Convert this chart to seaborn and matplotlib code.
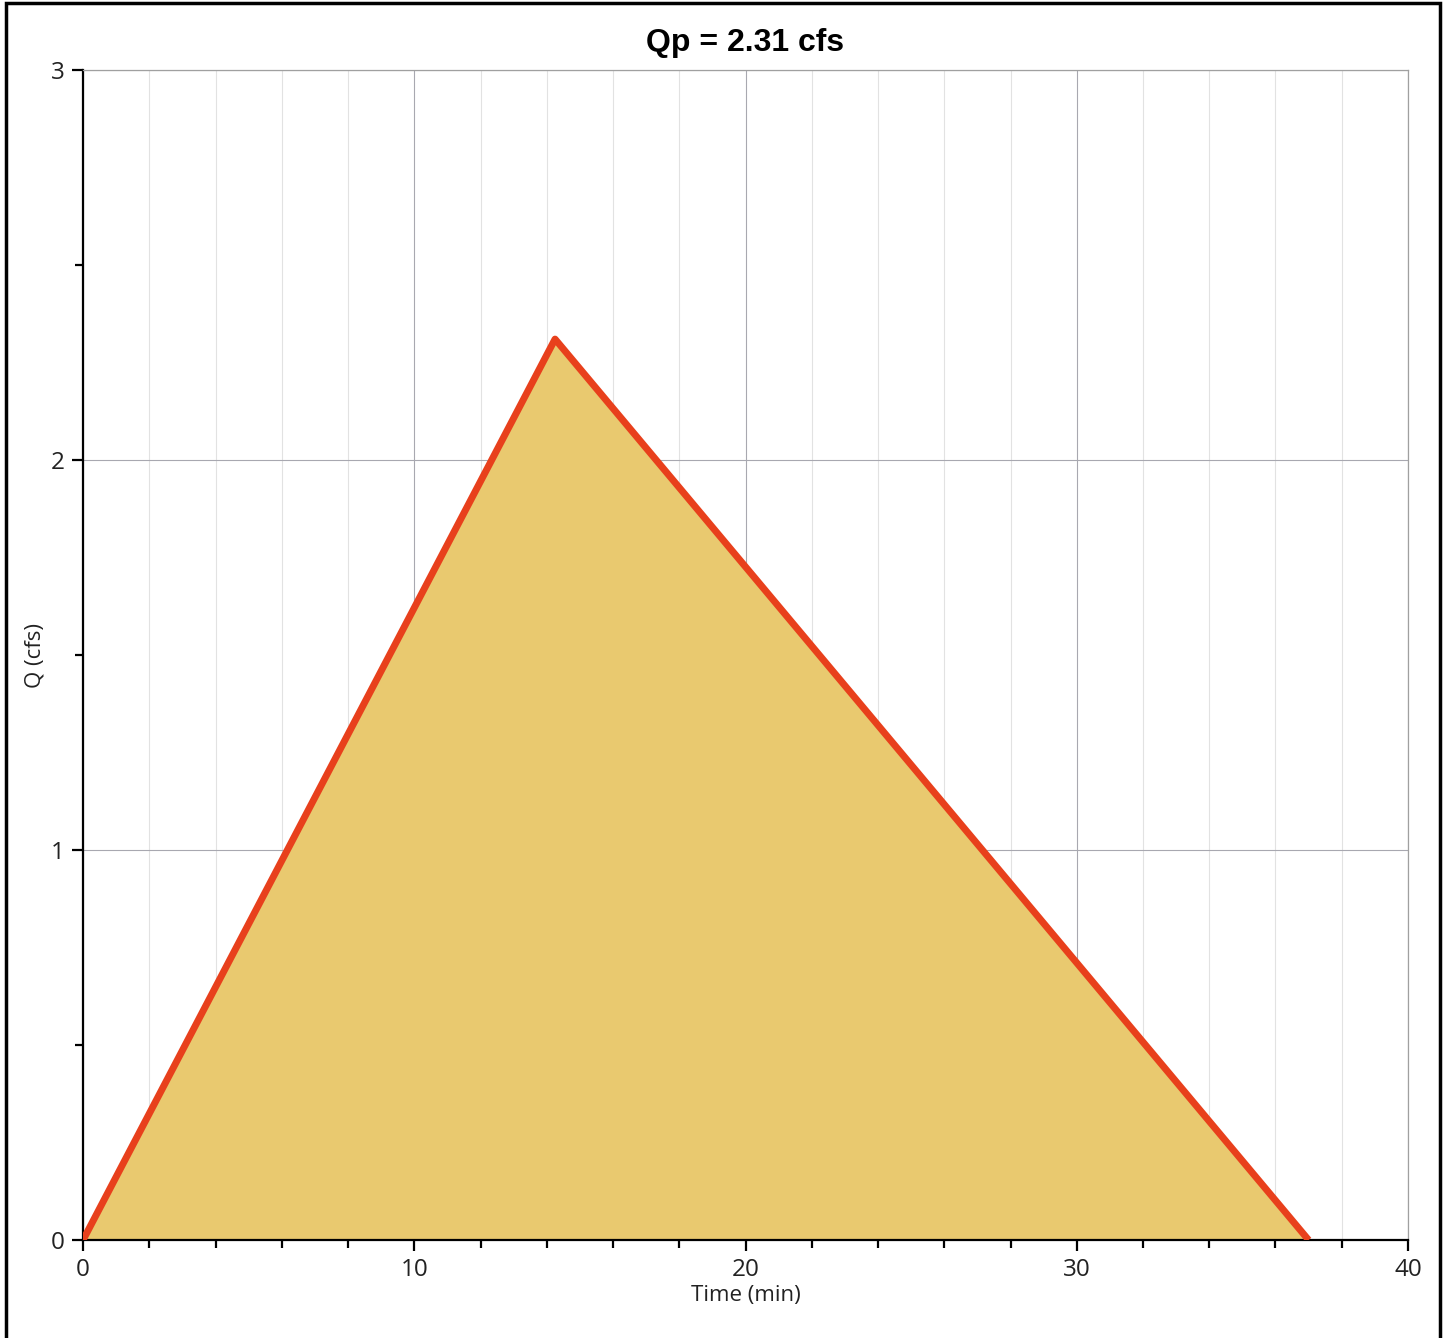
import matplotlib
matplotlib.use("Agg")
import matplotlib.pyplot as plt
import seaborn as sns
import pandas as pd
from matplotlib.ticker import MultipleLocator
from matplotlib.patches import Rectangle

time_min = [0.0, 14.25, 37.0]
q_cfs = [0.0, 2.31, 0.0]
title = "Qp = 2.31 cfs"
x_ticks = [0, 10, 20, 30, 40]
y_ticks = [0, 1, 2, 3]

df = pd.DataFrame({"Time (min)": time_min, "Q (cfs)": q_cfs})

sns.set_theme(style="white")
plt.rcParams['font.family'] = ['Open Sans', 'DejaVu Sans']
plt.rcParams['text.color'] = '#222222'
plt.rcParams['axes.labelcolor'] = '#222222'
plt.rcParams['xtick.color'] = '#222222'
plt.rcParams['ytick.color'] = '#222222'

fig = plt.figure(figsize=(14.49, 13.38), dpi=100)
ax = fig.add_axes([0.0573, 0.0732, 0.9144, 0.8745])

ax.fill_between(df["Time (min)"], df["Q (cfs)"], color="#E9C96F", zorder=2, lw=0)
sns.lineplot(data=df, x="Time (min)", y="Q (cfs)", ax=ax, color="#E8401C",
             lw=5, zorder=3, solid_joinstyle="round", solid_capstyle="butt")

ax.set_xlim(0, 40)
ax.set_ylim(0, 3)
ax.set_xticks(x_ticks)
ax.set_yticks(y_ticks)
ax.xaxis.set_minor_locator(MultipleLocator(2))
ax.yaxis.set_minor_locator(MultipleLocator(0.5))

ax.grid(which="major", axis="both", color="#a8a8b0", lw=0.8, zorder=0)
ax.grid(which="minor", axis="x", color="#e2e2e2", lw=0.8, zorder=0)
ax.set_axisbelow(True)

for s in ["left", "bottom"]:
    ax.spines[s].set_color("black")
    ax.spines[s].set_linewidth(1.6)
for s in ["top", "right"]:
    ax.spines[s].set_color("#a0a0a0")
    ax.spines[s].set_linewidth(0.9)

ax.tick_params(which="major", direction="out", length=8, width=1.6, color="black",
               labelsize=17.5, pad=5, bottom=True, left=True)
ax.tick_params(which="minor", direction="out", length=6, width=1.6, color="black",
               bottom=True, left=True)

ax.set_xlabel("Time (min)", fontsize=16, labelpad=2)
ax.set_ylabel("Q (cfs)", fontsize=16, labelpad=4)
ax.set_title(title, fontsize=23, fontweight="bold", color="black",
             family=["Liberation Sans", "DejaVu Sans"], pad=14)

fig.patches.append(Rectangle((0.004, -0.01), 0.99, 1.008, transform=fig.transFigure,
                             fill=False, edgecolor="black", lw=2.5))

fig.savefig("out.png", dpi=100, facecolor="white")
